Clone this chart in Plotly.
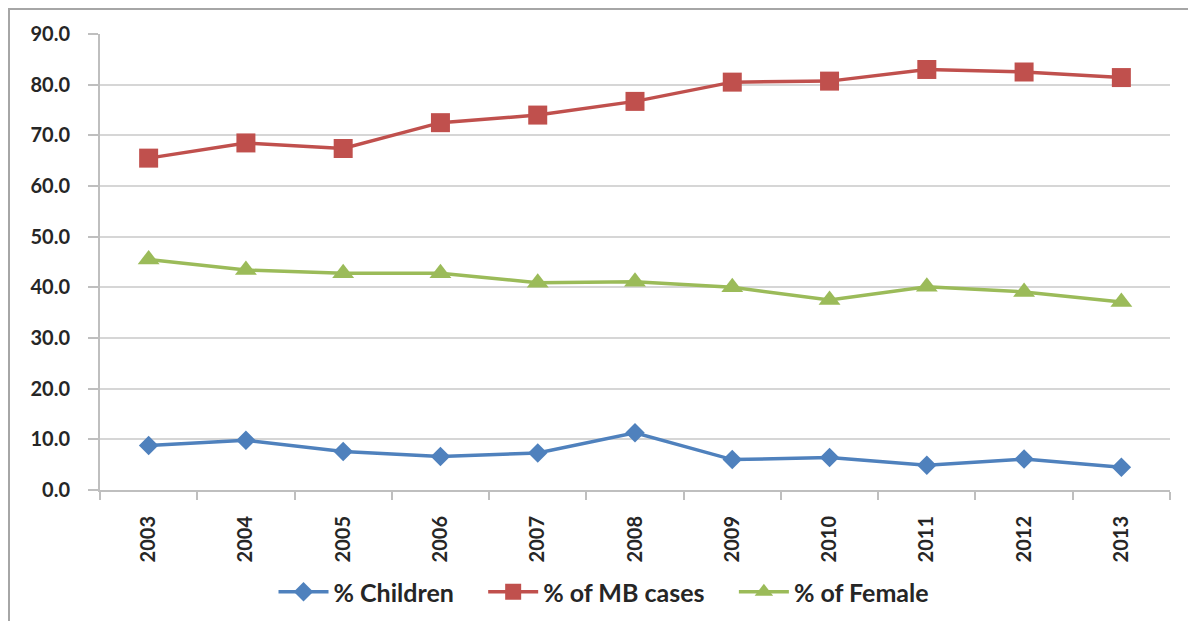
import plotly.graph_objects as go

years = ["2003", "2004", "2005", "2006", "2007", "2008", "2009", "2010", "2011", "2012", "2013"]
children = [8.8, 9.8, 7.6, 6.6, 7.3, 11.3, 6.0, 6.4, 4.9, 6.1, 4.5]
mb_cases = [65.5, 68.5, 67.4, 72.5, 74.0, 76.7, 80.5, 80.7, 83.0, 82.5, 81.4]
female = [45.5, 43.4, 42.8, 42.8, 40.9, 41.1, 40.0, 37.5, 40.1, 39.1, 37.1]
y_ticks = [0, 10, 20, 30, 40, 50, 60, 70, 80, 90]

FONT = "Lato"
TXT = "#262626"
W, H = 1188, 613
L, R, T, B = 92, 26, 26, 131
PW, PH = W - L - R, H - T - B
PAD = "\u00a0" * 4  # extra spacing between legend entries

fig = go.Figure()
fig.add_trace(go.Scatter(x=years, y=children, name="% Children" + PAD, mode="lines+markers",
                         line=dict(color="#4f81bd", width=3.5),
                         marker=dict(symbol="diamond", size=15, color="#4f81bd")))
fig.add_trace(go.Scatter(x=years, y=mb_cases, name="% of MB cases" + PAD, mode="lines+markers",
                         line=dict(color="#c0504d", width=3.5),
                         marker=dict(symbol="square", size=19, color="#c0504d")))
fig.add_trace(go.Scatter(x=years, y=female, name="% of Female", mode="lines+markers",
                         line=dict(color="#9bbb59", width=3.5),
                         marker=dict(symbol="triangle-up", size=19, color="#9bbb59")))

fig.update_layout(
    width=W, height=H,
    margin=dict(l=L, r=R, t=T, b=B, autoexpand=False),
    paper_bgcolor="white", plot_bgcolor="white",
    font=dict(family=FONT, size=20, color=TXT, weight="bold"),
    showlegend=True,
    legend=dict(orientation="h", x=(596 - L) / PW, xanchor="center",
                y=-(584 - T - PH) / PH, yanchor="middle",
                font=dict(family=FONT, size=25, color=TXT, weight="bold"),
                itemwidth=50, tracegroupgap=0),
    shapes=[dict(type="rect", xref="paper", yref="paper",
                 x0=(1 - L) / PW, x1=(1185 - L) / PW, y0=-1.0, y1=1 + (T - 1) / PH,
                 line=dict(color="#a6a6a6", width=2), layer="below")],
)
fig.update_xaxes(type="category", range=[-0.5, 10.5], tickangle=-90, automargin=False,
                 showline=True, linecolor="#bfbfbf", linewidth=2,
                 ticks="outside", ticklen=8, tickcolor="#bfbfbf", tickwidth=2,
                 tickson="boundaries", showgrid=False, ticklabelstandoff=16,
                 tickfont=dict(family=FONT, size=20, color=TXT, weight="bold"))
fig.update_yaxes(range=[0, 90], tickvals=y_ticks, tickformat=".1f", automargin=False,
                 showline=True, linecolor="#bfbfbf", linewidth=2,
                 ticks="outside", ticklen=10, tickcolor="#bfbfbf", tickwidth=2,
                 showgrid=True, gridcolor="#d6d6d6", gridwidth=2, zeroline=False,
                 ticklabelstandoff=14,
                 tickfont=dict(family=FONT, size=20, color=TXT, weight="bold"))

fig.write_html("out.html")
